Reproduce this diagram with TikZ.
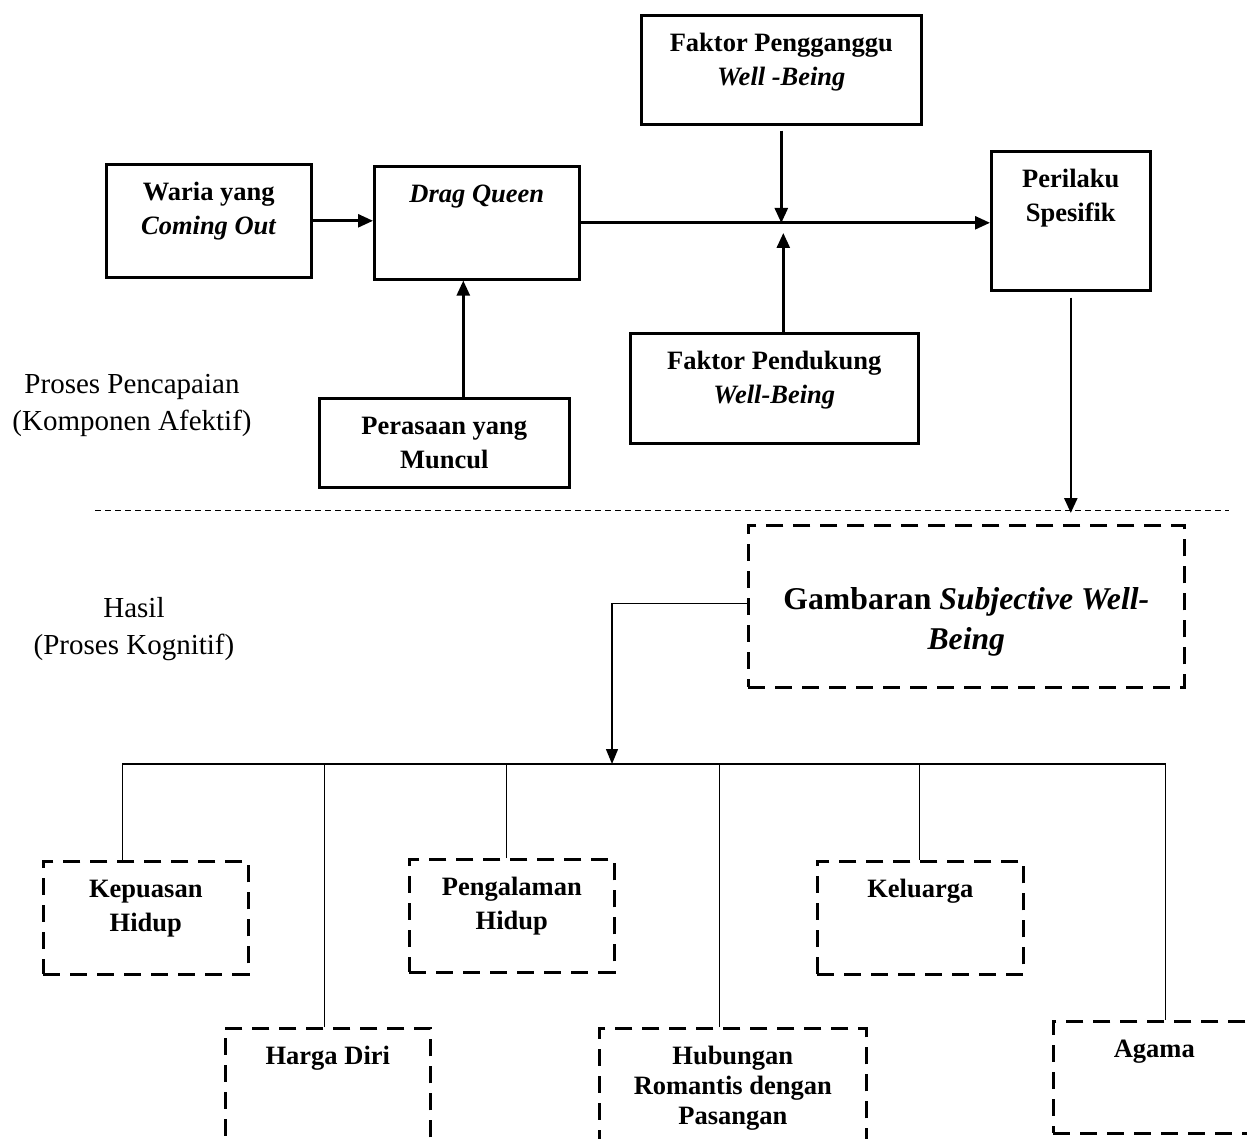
\documentclass[tikz,border=0pt]{standalone}
\usepackage{fontspec}
\setmainfont{Liberation Serif}
\usetikzlibrary{arrows.meta, positioning}

\begin{document}
\begin{tikzpicture}[
    x=1pt, y=-1pt,
    blok/.style={draw, line width=2.6pt, align=center, font=\bfseries\fontsize{26.5}{34}\selectfont, inner xsep=0pt, inner ysep=16pt, text height=20pt, text depth=#1, anchor=north west},
    putus/.style={blok=#1, dash pattern=on 17pt off 10pt},
    dua/.style={text height=54pt},
    ket/.style={align=center, font=\fontsize{29}{37}\selectfont, inner sep=0pt, text height=59pt, anchor=north},
    panah/.style={-{Triangle[length=15pt, width=13pt]}, line width=2.6pt},
    cabang/.style={line width=1.3pt},
    pemisah/.style={line width=1pt, dash pattern=on 6pt off 4pt}
]
\useasboundingbox (0,0) rectangle (1247,1139);
\clip (0,0) rectangle (1247,1139);

% proses pencapaian
\node[blok=27pt, dua, minimum width=205pt] (waria) at (105,163) {Waria yang\\\textit{Coming Out}};
\node[blok=61pt, minimum width=205pt] (dq) at (373,165) {\textit{Drag Queen}};
\node[blok=3pt, dua, minimum width=250pt] (perasaan) at (318,397) {Perasaan yang\\Muncul};
\node[blok=23pt, dua, minimum width=280pt] (fpeng) at (640,14) {Faktor Pengganggu\\\textit{Well -Being}};
\node[blok=53pt, dua, minimum width=159pt] (perilaku) at (990,150) {Perilaku\\Spesifik};
\node[blok=24pt, dua, minimum width=288pt] (fpend) at (629,332) {Faktor Pendukung\\\textit{Well-Being}};

% hasil
\node[putus=18pt, minimum width=436pt, font=\bfseries\fontsize{31.7}{40}\selectfont, inner ysep=20pt, text height=104pt] (gambaran) at (747,524) {Gambaran \textit{Subjective Well-}\\\textit{Being}};
\node[putus=27pt, dua, minimum width=205pt] (kepuasan) at (42,860) {Kepuasan\\Hidup};
\node[putus=27pt, dua, minimum width=205pt] (pengalaman) at (408,858) {Pengalaman\\Hidup};
\node[putus=61pt, minimum width=206pt] (keluarga) at (816,860) {Keluarga};
\node[putus=68pt, minimum width=205pt] (harga) at (224,1027) {Harga Diri};
\node[putus=8pt, minimum width=267pt, font=\bfseries\fontsize{26.5}{30}\selectfont, text height=80pt] (hubungan) at (598,1027) {Hubungan\\Romantis dengan\\Pasangan};
\node[putus=60pt, minimum width=202pt] (agama) at (1052,1020) {Agama};

% keterangan kiri
\node[ket] (proses) at (132,371) {Proses Pencapaian\\(Komponen Afektif)};
\node[ket] (hasil) at (134,595) {Hasil\\(Proses Kognitif)};

\coordinate (temu) at (780,223);
\coordinate (bus) at (612,764);

\draw[panah] (waria.east) -- (waria.east -| dq.west);
\draw[panah] (dq.east) -- (dq.east -| perilaku.west);
\draw[panah] ([xshift=19pt]perasaan.north) -- ([xshift=19pt]perasaan.north |- dq.south);
\draw[panah] ([yshift=-5pt]fpeng.south) -- (fpeng.south |- temu);
\draw[panah, shorten >=10pt] ([xshift=9pt]fpend.north) -- ([xshift=9pt]fpend.north |- temu);
\draw[panah] ([yshift=-6pt]perilaku.south) -- ([yshift=11pt]perilaku.south |- gambaran.north);

\draw[pemisah] (95,510) -- (1229,510);

\draw[cabang, -{Triangle[length=15pt, width=12pt]}] ([yshift=3pt]gambaran.west) -| (bus);
\draw[cabang] ([xshift=-23pt]kepuasan.north) -- ([xshift=-23pt]kepuasan.north |- bus) -- ([xshift=11pt]agama.north |- bus) -- ([xshift=11pt]agama.north);
\draw[cabang] ([xshift=-3pt]harga.north) -- ([xshift=-3pt]harga.north |- bus);
\draw[cabang] ([xshift=-5pt]pengalaman.north) -- ([xshift=-5pt]pengalaman.north |- bus);
\draw[cabang] ([xshift=-13pt]hubungan.north) -- ([xshift=-13pt]hubungan.north |- bus);
\draw[cabang] ([xshift=-1pt]keluarga.north) -- ([xshift=-1pt]keluarga.north |- bus);

\end{tikzpicture}
\end{document}
